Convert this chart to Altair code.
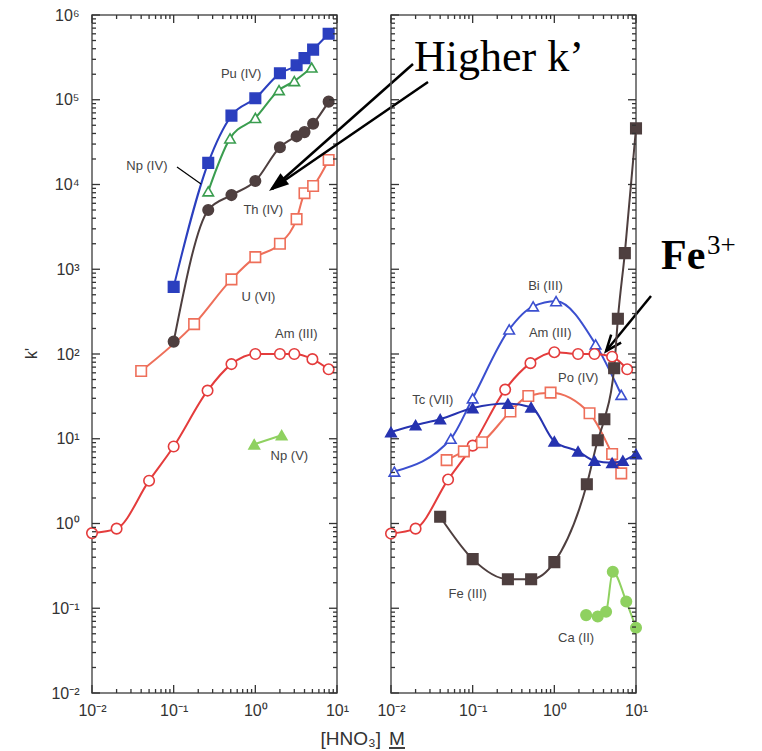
import altair as alt
import pandas as pd

# ---------------- data ----------------
# left panel
pu_x = [0.1, 0.265, 0.51, 1.0, 2.0, 3.2, 4.0, 5.1, 7.9]
pu_y = [620, 18000, 65000, 104000, 205000, 255000, 310000, 390000, 600000]
npiv_x = [0.265, 0.49, 1.0, 1.95, 3.0, 4.9]
npiv_y = [8300, 35000, 61000, 130000, 166000, 240000]
th_x = [0.1, 0.265, 0.51, 1.0, 2.0, 3.2, 4.0, 5.1, 7.9]
th_y = [140, 5000, 7500, 11000, 27500, 37000, 41500, 52000, 95000]
u_x = [0.04, 0.178, 0.51, 1.0, 2.0, 3.2, 4.0, 5.1, 7.9]
u_y = [63, 225, 760, 1390, 2000, 3900, 7900, 9600, 19500]
aml_x = [0.01, 0.02, 0.05, 0.1, 0.26, 0.51, 1.0, 2.0, 3.0, 5.0, 7.9]
aml_y = [0.77, 0.87, 3.2, 8.1, 37, 76, 100, 100, 100, 87, 66]
npv_x = [0.97, 2.1]
npv_y = [8.6, 11]

# right panel
bi_x = [0.011, 0.054, 0.1, 0.28, 0.55, 1.05, 3.2, 6.6]
bi_y = [4.1, 10, 30, 195, 365, 420, 130, 33]
amr_x = [0.01, 0.02, 0.05, 0.1, 0.25, 0.51, 1.0, 1.95, 3.1, 5.1, 7.8]
amr_y = [0.76, 0.87, 3.3, 8.3, 38, 78, 105, 100, 100, 93, 66]
po_x = [0.048, 0.078, 0.13, 0.29, 0.48, 0.9, 2.7, 5.1, 6.6]
po_y = [5.6, 7.1, 9.1, 21, 32, 35, 20, 6.6, 3.9]
tc_x = [0.01, 0.02, 0.04, 0.1, 0.27, 0.52, 1.0, 1.95, 3.1, 5.1, 6.9, 10]
tc_y = [12, 14.5, 17, 23, 26, 23.5, 9.3, 7.1, 5.5, 5.2, 5.5, 6.6]
fe_x = [0.04, 0.1, 0.27, 0.52, 1.0, 2.5, 3.4, 4.1, 5.4, 6.0, 7.3, 10]
fe_y = [1.2, 0.38, 0.22, 0.22, 0.35, 2.9, 9.6, 17, 68, 260, 1550, 46000]
ca_x = [2.45, 3.4, 4.3, 5.2, 7.6, 10]
ca_y = [0.083, 0.08, 0.091, 0.27, 0.12, 0.059]

# series labels (text, x, y)
left_lab_t = ["Pu (IV)", "Np (IV)", "Th (IV)", "U (VI)", "Am (III)", "Np (V)"]
left_lab_x = [0.67, 0.047, 1.25, 1.09, 3.18, 2.61]
left_lab_y = [200000, 16500, 5000, 470, 171, 6.2]
right_lab_t = ["Bi (III)", "Am (III)", "Po (IV)", "Tc (VII)", "Fe (III)", "Ca (II)"]
right_lab_x = [0.78, 0.89, 1.96, 0.0325, 0.087, 1.85]
right_lab_y = [630, 176, 52, 29, 0.146, 0.044]

# axis ticks and labels
x_major = [0.01, 0.1, 1, 10]
x_minor = [0.02, 0.03, 0.04, 0.05, 0.06, 0.07, 0.08, 0.09,
           0.2, 0.3, 0.4, 0.5, 0.6, 0.7, 0.8, 0.9,
           2, 3, 4, 5, 6, 7, 8, 9]
y_major = [0.01, 0.1, 1, 10, 100, 1000, 10000, 100000, 1000000]
y_minor = [m * d for d in [0.01, 0.1, 1, 10, 100, 1000, 10000, 100000]
           for m in [2, 3, 4, 5, 6, 7, 8, 9]]
exp_labels = {-2: "10⁻²", -1: "10⁻¹", 0: "10⁰", 1: "10¹", 2: "10²",
              3: "10³", 4: "10⁴", 5: "10⁵", 6: "10⁶"}

# ---------------- styling ----------------
BLUE = "#2b3fbf"
BLUE2 = "#3b4fcf"
TCBLUE = "#2633b0"
GREEN = "#3a9d4f"
LGREEN = "#8fd160"
BROWN = "#4e3f3f"
SALMON = "#ee6f5a"
RED = "#e43c3c"

left_series = [
    ("Pu (IV)", pu_x, pu_y, "square", True, BLUE),
    ("Np (IV)", npiv_x, npiv_y, "triangle-up", False, GREEN),
    ("Th (IV)", th_x, th_y, "circle", True, BROWN),
    ("U (VI)", u_x, u_y, "square", False, SALMON),
    ("Am (III)", aml_x, aml_y, "circle", False, RED),
    ("Np (V)", npv_x, npv_y, "triangle-up", True, LGREEN),
]
right_series = [
    ("Bi (III)", bi_x, bi_y, "triangle-up", False, BLUE2),
    ("Am (III)", amr_x, amr_y, "circle", False, RED),
    ("Po (IV)", po_x, po_y, "square", False, SALMON),
    ("Tc (VII)", tc_x, tc_y, "triangle-up", True, TCBLUE),
    ("Fe (III)", fe_x, fe_y, "square", True, BROWN),
    ("Ca (II)", ca_x, ca_y, "circle", True, LGREEN),
]

W, H = 245, 678
XDOM = [0.01, 10]
YDOM = [0.01, 1000000]
LABEL_EXPR = "".join(
    f"round(log(datum.value)/LN10)=={k}?'{v}':" for k, v in exp_labels.items()
) + "''"
TICK = "#333"


def label_axis(orient, values, show=True, **kw):
    opts = dict(orient=orient, values=values, ticks=False, labels=show,
                domain=False, grid=False, title=None,
                labelFont="Liberation Sans", labelFontSize=16, labelColor="#333",
                labelFlush=False, labelOverlap=False, labelExpr=LABEL_EXPR)
    opts.update(kw)
    return alt.Axis(**opts)


def series_frame(series):
    rows = []
    for name, xs, ys, *_ in series:
        for a, b in zip(xs, ys):
            rows.append({"s": name, "x": a, "y": b})
    return pd.DataFrame(rows)


one = pd.DataFrame({"k": [0]})


def txt(text, x, y, **kw):
    return alt.Chart(one).mark_text(text=text, **kw).encode(x=alt.value(x), y=alt.value(y))


def seg(x, y, x2, y2, width=2.5):
    return alt.Chart(one).mark_rule(strokeWidth=width, color="black").encode(
        x=alt.value(x), y=alt.value(y), x2=alt.value(x2), y2=alt.value(y2))


def head(x, y, angle, path, size, filled):
    return alt.Chart(one).mark_point(shape=path, size=size, angle=angle, filled=filled,
                                     color="black", opacity=1, strokeWidth=2.5).encode(
        x=alt.value(x), y=alt.value(y))


def panel(series, lab_t, lab_x, lab_y, left, extra):
    df = series_frame(series)
    lab = pd.DataFrame({"t": lab_t, "x": lab_x, "y": lab_y})
    names = [s[0] for s in series]
    colors = [s[5] for s in series]
    shapes = [s[3] for s in series]
    fills = [s[5] if s[4] else "white" for s in series]
    xs = alt.Scale(type="log", domain=XDOM, nice=False)
    ys = alt.Scale(type="log", domain=YDOM, nice=False)

    ykw = dict(labelPadding=13)
    if left:
        ykw.update(title="k'", titleFont="Liberation Sans", titleFontSize=16,
                   titleColor="#333", titleFontWeight="normal", titleX=-61, titleY=338,
                   titleAngle=270, titleAlign="center", titleBaseline="middle")

    lines = alt.Chart(df).mark_line(interpolate="monotone", strokeWidth=2).encode(
        x=alt.X("x:Q", scale=xs, axis=label_axis("bottom", x_major, labelPadding=9)),
        y=alt.Y("y:Q", scale=ys, axis=label_axis("left", y_major, show=left, **ykw)),
        color=alt.Color("s:N", scale=alt.Scale(domain=names, range=colors), legend=None),
    )

    def X(f="x"):
        return alt.X(f"{f}:Q", scale=xs, axis=None)

    def Y(f="y"):
        return alt.Y(f"{f}:Q", scale=ys, axis=None)

    points = alt.Chart(df).mark_point(filled=True, size=110, strokeWidth=1.6, opacity=1).encode(
        x=X(), y=Y(),
        shape=alt.Shape("s:N", scale=alt.Scale(domain=names, range=shapes), legend=None),
        fill=alt.Fill("s:N", scale=alt.Scale(domain=names, range=fills), legend=None),
        stroke=alt.Stroke("s:N", scale=alt.Scale(domain=names, range=colors), legend=None),
    )
    texts = alt.Chart(lab).mark_text(font="Liberation Sans", fontSize=13, color="#444").encode(
        x=X(), y=Y(), text="t:N",
    )

    # inward tick marks on all four edges, placed through the scales
    ticks = []
    for vals, L in ((x_major, 8), (x_minor, 4)):
        base = alt.Chart(pd.DataFrame({"v": vals})).mark_rule(color=TICK, strokeWidth=1.3)
        ticks.append(base.encode(x=X("v"), y=alt.value(H - L), y2=alt.value(H)))
        ticks.append(base.encode(x=X("v"), y=alt.value(0), y2=alt.value(L)))
    for vals, L in ((y_major, 8), (y_minor, 4)):
        base = alt.Chart(pd.DataFrame({"v": vals})).mark_tick(
            orient="horizontal", size=L, thickness=1.3, color=TICK, opacity=1)
        ticks.append(base.encode(y=Y("v"), x=alt.value(L / 2)))
        ticks.append(base.encode(y=Y("v"), x=alt.value(W - L / 2)))

    return alt.layer(lines, points, texts, *ticks, *extra).resolve_axis(
        x="independent", y="independent").properties(width=W, height=H)


ARROW = "M0,-1L-0.7,1L0.7,1Z"
VHEAD = "M-0.8,1L0,-1L0.8,1"

left_extra = [
    seg(85, 152, 109, 169, width=1.2),
    seg(321, 49, 180, 174),
    seg(336, 67, 180, 174),
    head(184.9, 169.9, 232, ARROW, 400, True),
    txt("Higher k\u2019", 322, 56, font="Liberation Serif", fontSize=44,
        align="left", baseline="alphabetic", color="black"),
    seg(559, 281, 514, 336),
    head(519.1, 329.8, 219, VHEAD, 256, False),
    txt("Fe", 569, 254, font="Liberation Serif", fontSize=42, fontWeight="bold",
        align="left", baseline="alphabetic", color="black"),
    txt("3+", 615, 239, font="Liberation Serif", fontSize=27,
        align="left", baseline="alphabetic", color="black"),
    txt("[HNO\u2083]", 289, 724, font="Liberation Sans", fontSize=19,
        align="right", baseline="middle", color="#333"),
    txt("M", 297, 724, font="Liberation Sans", fontSize=19,
        align="left", baseline="middle", color="#333"),
    seg(297, 733, 313, 733, width=1.5),
]

left = panel(left_series, left_lab_t, left_lab_x, left_lab_y, True, left_extra)
right = panel(right_series, right_lab_t, right_lab_x, right_lab_y, False, [])

chart = alt.hconcat(left, right, spacing=54, bounds="flush").resolve_scale(
    color="independent", fill="independent", stroke="independent", shape="independent"
).properties(
    padding={"left": 14, "top": -2, "right": 0, "bottom": 0}
).configure_view(stroke="#555", strokeWidth=1.5)

chart.save("out.html", embed_options={"renderer": "svg", "actions": False})
